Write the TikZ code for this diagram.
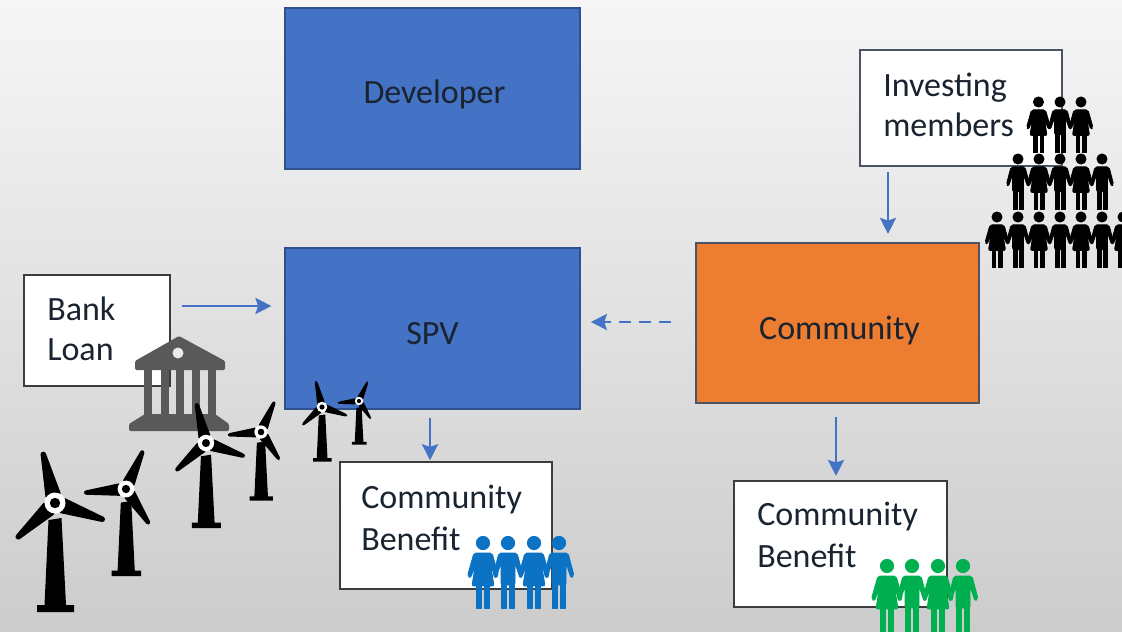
\documentclass[tikz,border=0pt]{standalone}
\usepackage{fontspec}
\setmainfont{Carlito}
\usetikzlibrary{arrows.meta,calc}
\definecolor{bluebox}{HTML}{4472C4}
\definecolor{blueedge}{HTML}{2F528F}
\definecolor{orangebox}{HTML}{ED7D31}
\definecolor{greyedge}{HTML}{4A5561}
\definecolor{whiteedge}{HTML}{3C3C3C}
\definecolor{inktext}{HTML}{1A2430}
\definecolor{bankgrey}{HTML}{595959}
\definecolor{peopleblue}{HTML}{0B72C4}
\definecolor{peoplegreen}{HTML}{00B050}
\definecolor{bgtop}{HTML}{F6F6F6}
\definecolor{bgmid}{HTML}{E6E6E6}
\definecolor{bgbot}{HTML}{CCCCCC}
\tikzset{
  x=0.75pt,y=-0.75pt,
  solidbox/.style={draw=blueedge,line width=1.6pt,inner sep=0pt,font=\fontsize{25.5}{30}\selectfont,text=inktext},
  whitebox/.style={draw=whiteedge,fill=white,line width=1.6pt,inner sep=0pt},
  boxtext/.style={anchor=north west,inner sep=0pt,align=left,font=\fontsize{25.5}{30}\selectfont,text=inktext},
  flow/.style={draw=bluebox,line width=1.9pt,-{Stealth[length=12pt,width=12pt,inset=2pt]}},
}
\newcommand{\lowered}[2]{\raisebox{-#1}[\height][\depth]{#2}}
\newcommand{\turbine}[4]{% x, y, scale, rotation
  \begin{scope}[shift={(#1,#2)},scale=#3]
    \fill (-6.5,17) -- (6.5,15) -- (11,102) -- (19,102) -- (19,109) -- (-18,109) -- (-18,102) -- (-10.5,102) -- cycle;
    \foreach \a in {103.5,-19,222.6}{
      \fill[rotate=\a+#4,rounded corners=1pt] (7,-8) -- (52,-2.5) -- (53,0) -- (52,2.5) -- (7,8) -- cycle;
    }
    \fill[white] (0,0) circle (10.5);
    \fill (0,0) circle (5.2);
  \end{scope}
}
\newcommand{\woman}[4]{% x, y, scale, colour
  \begin{scope}[shift={(#1,#2)},scale=#3,fill=#4,draw=#4,line width=#3*0.7pt,line join=round]
    \filldraw (0,0) circle (6.6);
    \filldraw[rounded corners=1.5pt] (-9,10) -- (9,10) -- (15.5,33) -- (12.5,35) -- (7.5,21) -- (11,43) -- (-11,43) -- (-7.5,21) -- (-12.5,35) -- (-15.5,33) -- cycle;
    \filldraw (-6.5,42) rectangle (-1.8,65);
    \filldraw (1.8,42) rectangle (6.5,65);
  \end{scope}
}
\newcommand{\man}[4]{% x, y, scale, colour
  \begin{scope}[shift={(#1,#2)},scale=#3,fill=#4,draw=#4,line width=#3*0.7pt,line join=round]
    \filldraw (0,0) circle (6.6);
    \filldraw[rounded corners=1.5pt] (-9,10) -- (9,10) -- (15,33) -- (12,35) -- (7,20) -- (7,42) -- (-7,42) -- (-7,20) -- (-12,35) -- (-15,33) -- cycle;
    \filldraw (-6.5,40) rectangle (-1.3,65);
    \filldraw (1.3,40) rectangle (6.5,65);
  \end{scope}
}
\begin{document}
\begin{tikzpicture}
  \useasboundingbox (0,0) rectangle (1122,632);
  \clip (0,0) rectangle (1122,632);
  \fill[top color=bgtop,middle color=bgmid,bottom color=bgbot] (0,0) rectangle (1122,632);

  % main boxes
  \node[solidbox,fill=bluebox,minimum width=221pt,minimum height=121pt] (dev) at (432.5,88.5) {\hspace{3pt}\lowered{4.5pt}{Developer}};
  \node[solidbox,fill=bluebox,minimum width=221pt,minimum height=121pt] (spv) at (432.5,328.5) {\lowered{3.5pt}{SPV}};
  \node[solidbox,draw=greyedge,fill=orangebox,minimum width=212pt,minimum height=120pt] (com) at (837.5,323) {\hspace{3pt}\lowered{5.5pt}{Community}};

  % white boxes
  \node[whitebox,draw=greyedge,minimum width=151.5pt,minimum height=87pt] (inv) at (961,108) {};
  \node[boxtext] (invt) at (883,73) {Investing\\members};
  \node[whitebox,minimum width=109.5pt,minimum height=83.25pt] (bank) at (97,330.5) {};
  \node[boxtext] (bankt) at (47,297) {Bank\\Loan};
  \node[whitebox,minimum width=159pt,minimum height=95.25pt] (cba) at (446,525.5) {};
  \node[boxtext] (cbat) at (361,485) {Community\\[1.5pt]Benefit};
  \node[whitebox,minimum width=160pt,minimum height=94.5pt] (cbb) at (840.5,544) {};
  \node[boxtext] (cbbt) at (757,502) {Community\\[1.5pt]Benefit};

  % connectors
  \draw[flow,shorten <=8.5pt,shorten >=9.5pt] (bank.east |- 0,306) -- (spv.west |- 0,306);
  \draw[flow,dashed,dash pattern=on 9pt off 6pt,shorten <=18pt,shorten >=7.5pt] (com.west |- 0,322) -- (spv.east |- 0,322);
  \draw[flow,shorten <=3.5pt,shorten >=6pt] (inv.south -| 888,0) -- (com.north -| 888,0);
  \draw[flow,shorten <=6pt,shorten >=0.5pt] (spv.south -| 430,0) -- (cba.north -| 430,0);
  \draw[flow,shorten <=9.5pt,shorten >=3pt] (com.south -| 836,0) -- (cbb.north -| 836,0);

  % bank icon
  \fill[bankgrey,rounded corners=1pt] (179,336) -- (225,361) -- (225,370) -- (135,370) -- (135,361) -- cycle;
  \fill[white!92!black] (178,353) circle (5.5);
  \foreach \cx in {148,165,180,196,212}{
    \fill[bankgrey] (\cx-4,369) rectangle (\cx+4,416);
  }
  \fill[bankgrey,rounded corners=1pt] (145,414) -- (215,414) -- (229,424) -- (229,431) -- (129,431) -- (129,424) -- cycle;

  % turbines
  \turbine{55}{503}{1}{0}
  \turbine{126}{489}{0.8}{-37.5}
  \turbine{206}{443}{0.78}{0}
  \turbine{261}{432}{0.63}{-37.5}
  \turbine{322}{407}{0.5}{0}
  \turbine{359}{401}{0.4}{-37.5}

  % people: benefit groups
  \woman{483}{543}{1}{peopleblue}
  \man{508}{543}{1}{peopleblue}
  \woman{534}{543}{1}{peopleblue}
  \man{559}{543}{1}{peopleblue}
  \woman{887}{566}{1}{peoplegreen}
  \man{912}{566}{1}{peoplegreen}
  \woman{938}{566}{1}{peoplegreen}
  \man{963}{566}{1}{peoplegreen}

  % people: investors
  \woman{1038.5}{102}{0.78}{black}
  \man{1060}{102}{0.78}{black}
  \woman{1081}{102}{0.78}{black}
  \man{1018}{159}{0.78}{black}
  \woman{1039}{159}{0.78}{black}
  \man{1060}{159}{0.78}{black}
  \woman{1081}{159}{0.78}{black}
  \man{1102}{159}{0.78}{black}
  \woman{997}{217}{0.78}{black}
  \man{1018}{217}{0.78}{black}
  \woman{1039}{217}{0.78}{black}
  \man{1060}{217}{0.78}{black}
  \woman{1081}{217}{0.78}{black}
  \man{1102}{217}{0.78}{black}
  \woman{1123}{217}{0.78}{black}
\end{tikzpicture}
\end{document}
